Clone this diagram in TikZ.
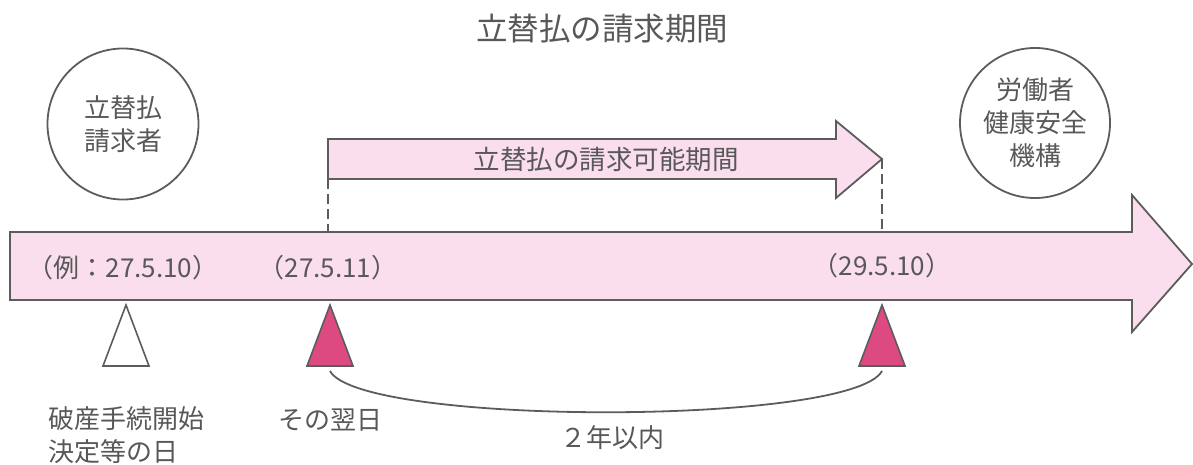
\documentclass[tikz,border=0pt]{standalone}
\usepackage{fontspec}
\setmainfont{Noto Sans CJK JP}
\definecolor{txtgray}{RGB}{88,88,88}
\definecolor{linegray}{RGB}{92,92,92}
\definecolor{bandpink}{RGB}{250,222,238}
\definecolor{markpink}{RGB}{221,74,130}
\begin{document}
\begin{tikzpicture}[x=1pt, y=-1pt,
    txt/.style={text=txtgray, inner sep=0pt, font=\fontsize{26}{33}\selectfont},
    outl/.style={draw=linegray, line width=1.8pt},
    band/.style={outl, fill=bandpink},
    tri/.style={outl, line width=1.6pt, line join=miter},
    guide/.style={draw=linegray, line width=1.4pt, dash pattern=on 10pt off 5pt}]
    \useasboundingbox (0,0) rectangle (1193,464);
    % title
    \node[txt, font=\fontsize{31.5}{31.5}\selectfont] (title) at (602,29) {立替払の請求期間};
    % the two parties
    \node[circle, outl, minimum size=151pt, txt, align=center] (applicant) at (123,124) {立替払\\請求者};
    \node[circle, outl, minimum size=150pt, txt, align=center] (jeed) at (1035,123) {労働者\\健康安全\\機構};
    % claim period arrow
    \draw[band] (328,139) -- (836,139) -- (836,121) -- (882,159) -- (836,198) -- (836,179) -- (328,179) -- cycle;
    \node[txt, font=\fontsize{26.5}{26.5}\selectfont] (period) at (606,159) {立替払の請求可能期間};
    \coordinate (claimtail) at (328,179);
    \coordinate (claimtip) at (882,159);
    % time line
    \draw[band] (10,232) -- (1132,232) -- (1132,195) -- (1192,264) -- (1132,332) -- (1132,300) -- (10,300) -- cycle;
    \coordinate (bandtop) at (0,232);
    \draw[guide] (claimtail) -- (claimtail |- bandtop);
    \draw[guide] (claimtip) -- (claimtip |- bandtop);
    \node[txt] (exday) at (123,268) {（例：27.5.10）};
    \node[txt] (nextday) at (328,268) {（27.5.11）};
    \node[txt] (lastday) at (882,266) {（29.5.10）};
    % markers
    \draw[tri, fill=white] (103,366) -- (126,305) -- (149,366) -- cycle;
    \foreach \x in {330,882}
        \draw[tri, fill=markpink] (\x-23,366) -- (\x,305) -- (\x+23,366) -- cycle;
    \coordinate (startmark) at (330,371);
    \coordinate (endmark) at (882,371);
    \draw[outl] (startmark) .. controls (360,426) and (852,426) .. (endmark);
    % labels below
    \node[txt, align=left, anchor=north west] (decision) at (48,406) {破産手続開始\\決定等の日};
    \node[txt] (following) at (330,420) {その翌日};
    \node[txt] (within) at (612,438) {２年以内};
\end{tikzpicture}
\end{document}
